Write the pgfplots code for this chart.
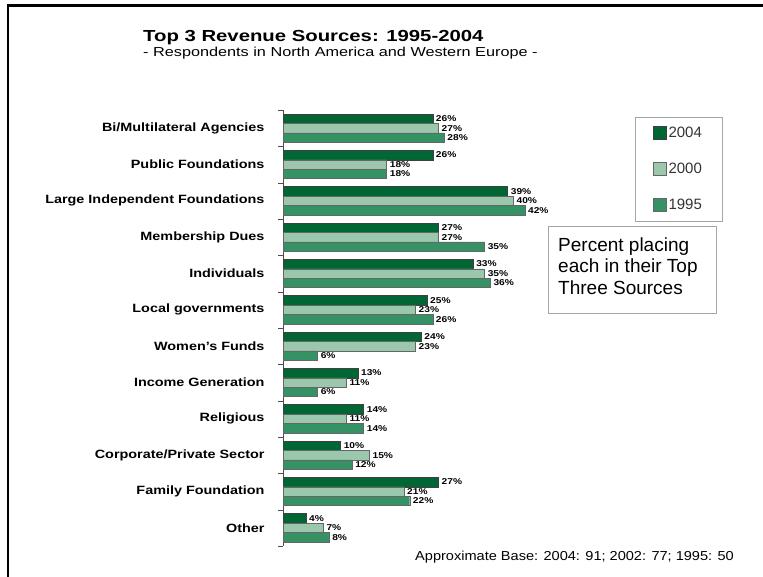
\documentclass[border=0pt]{standalone}
\usepackage{fontspec}
\setmainfont{Liberation Sans}
\usepackage{graphicx}
\usepackage{pgfplots}
\pgfplotsset{compat=1.18}
\definecolor{cA}{RGB}{0,102,51}
\definecolor{cB}{RGB}{155,200,172}
\definecolor{cC}{RGB}{52,146,100}
\newcommand{\sx}[1]{\scalebox{1.2}[1]{#1}}
\begin{document}
\begin{tikzpicture}
\useasboundingbox (0,0) rectangle (763bp,-577bp);
\draw[line width=2.5bp] (8bp,-577bp) -- (8bp,-5.5bp) -- (763bp,-5.5bp);
\node[anchor=base west, inner sep=0] at (143bp,-41bp) {\fontsize{16bp}{18bp}\selectfont\bfseries\scalebox{1.27}[1]{Top 3 Revenue Sources: 1995-2004}};
\node[anchor=base west, inner sep=0] at (143bp,-56bp) {\fontsize{13bp}{15bp}\selectfont\scalebox{1.25}[1]{- Respondents in North America and Western Europe -}};
\node[anchor=base west, inner sep=0] at (415bp,-560bp) {\fontsize{13bp}{16bp}\selectfont\scalebox{1.12}[1]{Approximate Base: 2004: 91; 2002: 77; 1995: 50}};
\draw[gray!70] (548bp,-226bp) rectangle (716bp,-313bp);
\node[anchor=base west, inner sep=0, font=\fontsize{19bp}{21.5bp}\selectfont] at (558bp,-251bp) {Percent placing};
\node[anchor=base west, inner sep=0, font=\fontsize{19bp}{21.5bp}\selectfont] at (558bp,-272.5bp) {each in their Top};
\node[anchor=base west, inner sep=0, font=\fontsize{19bp}{21.5bp}\selectfont] at (558bp,-294bp) {Three Sources};
\begin{axis}[
  at={(283bp,-110bp)}, anchor=north west,
  scale only axis, width=288bp, height=436bp,
  xbar, xmin=0, xmax=50, ymin=-0.5, ymax=11.5, y dir=reverse,
  bar width=0.26,
  axis x line=none, axis y line*=left,
  y axis line style={-, gray!60!black},
  ytick={0,...,11},
  yticklabels={\sx{Bi/Multilateral Agencies},\sx{Public Foundations},\sx{Large Independent Foundations},\sx{Membership Dues},\sx{Individuals},\sx{Local governments},\sx{Women's Funds},\sx{Income Generation},\sx{Religious},\sx{Corporate/Private Sector},\sx{Family Foundation},\sx{Other}},
  yticklabel style={font=\fontsize{12bp}{14bp}\selectfont\bfseries, xshift=-15bp},
  major tick length=0pt,
  minor ytick={-0.5,0.5,...,11.5},
  minor tick length=5bp,
  tick align=outside,
  ytick style={gray!60!black},
  /pgf/number format/assume math mode=true,
  point meta=x,
  nodes near coords={\sx{\pgfmathprintnumber{\pgfplotspointmeta}\%}},
  every node near coord/.append style={font=\fontsize{8.5bp}{9bp}\selectfont\bfseries, anchor=west, inner sep=0pt, xshift=3bp},
  legend style={at={(1.222,0.984)}, anchor=north west, draw=gray!70, font=\fontsize{15bp}{18bp}\selectfont, text=black!80, row sep=20bp, inner xsep=18bp, inner ysep=8bp},
  legend cell align=left,
]
\addplot[fill=cA, draw=black!75, bar shift=-0.26, legend image code/.code={\draw[fill=cA,draw=black!75] (0bp,-6.5bp) rectangle (13bp,6.5bp);}] coordinates {
(26,0) (26,1) (39,2) (27,3) (33,4) (25,5) (24,6) (13,7) (14,8) (10,9) (27,10) (4,11)};
\addplot[fill=cB, draw=black!60, bar shift=0, legend image code/.code={\draw[fill=cB,draw=black!60] (0bp,-6.5bp) rectangle (13bp,6.5bp);}] coordinates {
(27,0) (18,1) (40,2) (27,3) (35,4) (23,5) (23,6) (11,7) (11,8) (15,9) (21,10) (7,11)};
\addplot[fill=cC, draw=black!60, bar shift=0.26, legend image code/.code={\draw[fill=cC,draw=black!60] (0bp,-6.5bp) rectangle (13bp,6.5bp);}] coordinates {
(28,0) (18,1) (42,2) (35,3) (36,4) (26,5) (6,6) (6,7) (14,8) (12,9) (22,10) (8,11)};
\legend{2004,2000,1995}
\end{axis}
\end{tikzpicture}
\end{document}
